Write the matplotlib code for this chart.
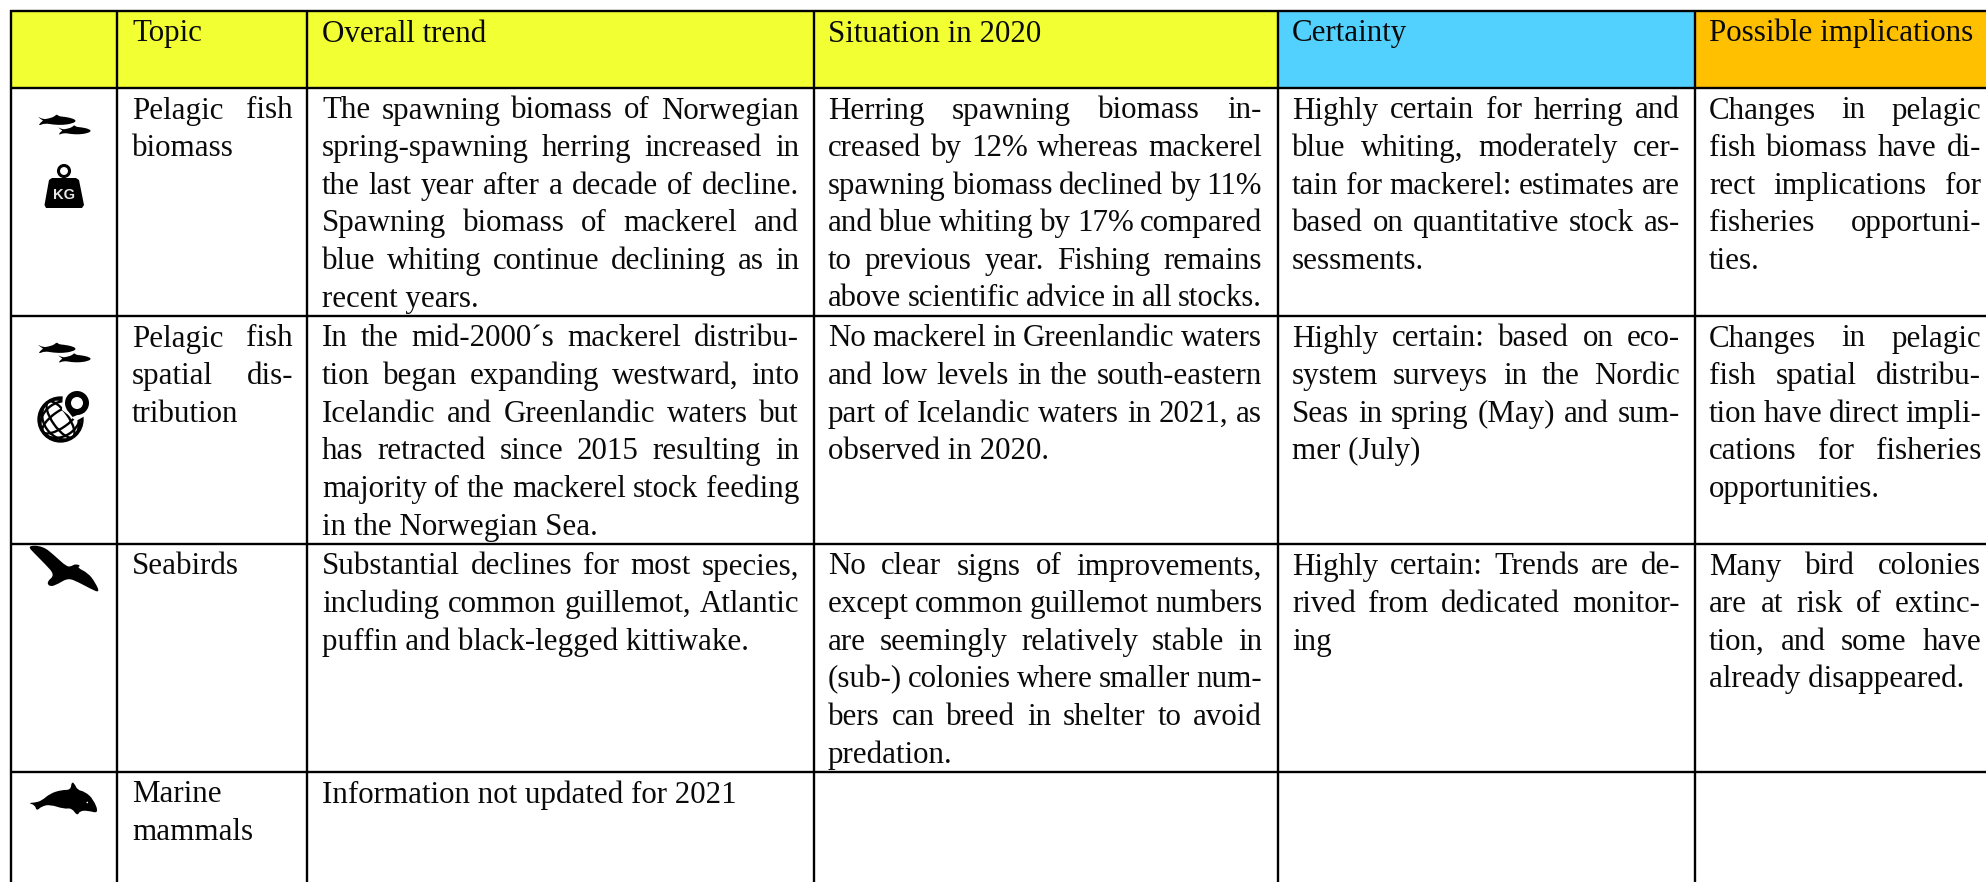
#!/usr/bin/env python3
"""Summary table of pelagic fish, seabirds and marine mammals, drawn on one pixel-sized axes."""

import matplotlib
matplotlib.use("Agg")
import matplotlib.pyplot as plt
from matplotlib.patches import Circle, Ellipse, PathPatch, Polygon, Rectangle
from matplotlib.path import Path

# Table content, one list per column, cells already broken into lines
headers = ["", "Topic", "Overall trend", "Situation in 2020", "Certainty", "Possible implications"]
header_colors = ["#F2FF33", "#F2FF33", "#F2FF33", "#F2FF33", "#52D1FF", "#FFC000"]

topics = [
    ["Pelagic fish", "biomass"],
    ["Pelagic fish", "spatial dis-", "tribution"],
    ["Seabirds"],
    ["Marine", "mammals"],
]
trends = [
    ["The spawning biomass of Norwegian", "spring-spawning herring increased in",
     "the last year after a decade of decline.", "Spawning biomass of mackerel and",
     "blue whiting continue declining as in", "recent years."],
    ["In the mid-2000´s mackerel distribu-", "tion began expanding westward, into",
     "Icelandic and Greenlandic waters but", "has retracted since 2015 resulting in",
     "majority of the mackerel stock feeding", "in the Norwegian Sea."],
    ["Substantial declines for most species,", "including common guillemot, Atlantic",
     "puffin and black-legged kittiwake."],
    ["Information not updated for 2021"],
]
situations = [
    ["Herring spawning biomass in-", "creased by 12% whereas mackerel",
     "spawning biomass declined by 11%", "and blue whiting by 17% compared",
     "to previous year. Fishing remains", "above scientific advice in all stocks."],
    ["No mackerel in Greenlandic waters", "and low levels in the south-eastern",
     "part of Icelandic waters in 2021, as", "observed in 2020."],
    ["No clear signs of improvements,", "except common guillemot numbers",
     "are seemingly relatively stable in", "(sub-) colonies where smaller num-",
     "bers can breed in shelter to avoid", "predation."],
    [],
]
certainty = [
    ["Highly certain for herring and", "blue whiting, moderately cer-",
     "tain for mackerel: estimates are", "based on quantitative stock as-", "sessments."],
    ["Highly certain: based on eco-", "system surveys in the Nordic",
     "Seas in spring (May) and sum-", "mer (July)"],
    ["Highly certain: Trends are de-", "rived from dedicated monitor-", "ing"],
    [],
]
implications = [
    ["Changes in pelagic", "fish biomass have di-", "rect implications for",
     "fisheries opportuni-", "ties."],
    ["Changes in pelagic", "fish spatial distribu-", "tion have direct impli-",
     "cations for fisheries", "opportunities."],
    ["Many bird colonies", "are at risk of extinc-", "tion, and some have",
     "already disappeared."],
    [],
]

# Layout, in reference pixels
W, H = 1986, 882
col_edges = [11, 117, 307, 814, 1278, 1695, W]
row_edges = [11, 88, 316, 544, 772, H]
text_left = [None, 132, 322, 828, 1292, 1709]
text_right = [None, 293, 799, 1262, 1680, 1981]
line_step = 37.6
first_baseline = 30.5
font = "Liberation Serif"
font_size = 22.3
min_gap = 6.0

fig = plt.figure(figsize=(W / 100, H / 100), dpi=100)
ax = fig.add_axes([0, 0, 1, 1])
ax.set_xlim(0, W)
ax.set_ylim(H, 0)
ax.axis("off")
renderer = fig.canvas.get_renderer()


def put_text(x, y, s, size=font_size):
    return ax.text(x, y, s, family=font, fontsize=size, color="#0a0a0a", va="baseline", ha="left")


def draw_line(line, x0, x1, y, justify):
    words = line.split(" ")
    if not justify or len(words) == 1:
        put_text(x0, y, line)
        return
    artists = [put_text(x0, y, w) for w in words]
    widths = [a.get_window_extent(renderer).width for a in artists]
    room = x1 - x0 - min_gap * (len(words) - 1)
    if sum(widths) > room:
        # tight line: shrink the font a little so the words still fit
        scale = room / sum(widths)
        for a in artists:
            a.set_fontsize(font_size * scale)
        widths = [a.get_window_extent(renderer).width for a in artists]
    gap = (x1 - x0 - sum(widths)) / (len(words) - 1)
    x = x0
    for a, w in zip(artists, widths):
        a.set_x(x)
        x += w + gap


def smooth_path(points):
    # closed quadratic spline through the midpoints of the outline
    mids = [((a[0] + b[0]) / 2, (a[1] + b[1]) / 2) for a, b in zip(points, points[1:] + points[:1])]
    verts = [mids[-1]]
    codes = [Path.MOVETO]
    for p, m in zip(points, mids):
        verts += [p, m]
        codes += [Path.CURVE3, Path.CURVE3]
    return Path(verts, codes)


def blob(points, color="black"):
    ax.add_patch(PathPatch(smooth_path(points), fc=color, ec="none", zorder=4))


FISH = [(-.02, -.11), (.06, -.05), (.11, -.01), (.14, 0), (.06, .06), (.01, .14), (.18, .07), (.4, .11), (.66, .12),
        (.9, .08), (1.02, .01), (.9, -.06), (.68, -.1), (.55, -.11), (.49, -.17), (.43, -.1), (.27, -.05), (.14, -.03)]


def draw_fish(x0, y0, length):
    blob([(x0 + u * length, y0 + v * length) for u, v in FISH])


def draw_fish_pair(dy):
    draw_fish(38, 120.5 + dy, 38)
    draw_fish(58, 130.5 + dy, 33)


def draw_weight():
    ax.add_patch(Circle((64, 171), 5.5, fc="none", ec="black", lw=2.2, zorder=4))
    ax.add_patch(Polygon([(52, 178), (76, 178), (79, 180), (84, 205), (82, 208), (46, 208), (44.5, 205), (49, 180)],
                         fc="black", ec="none", zorder=4))
    ax.text(64, 199, "KG", family="Liberation Sans", weight="bold", fontsize=10.5, color="#e8e8e8",
            ha="center", va="baseline", zorder=5)


def draw_globe():
    cx, cy, r = 60.5, 419.5, 21.5
    clip = Circle((cx, cy), r, transform=ax.transData)
    for w in (r * .75, r * 1.55):
        for size in ((w, 2 * r), (2 * r, w)):
            e = Ellipse((cx, cy), size[0], size[1], angle=-35, fc="none", ec="black", lw=1.7, zorder=4)
            ax.add_patch(e)
            e.set_clip_path(clip)
    ax.add_patch(Circle((cx, cy), r, fc="none", ec="black", lw=2.4, zorder=4))
    # pin with a white halo that cuts into the globe
    ax.add_patch(Polygon([(63, 392), (92, 392), (92, 412), (76, 421), (62, 410)], fc="white", ec="none", zorder=5))
    ax.add_patch(Circle((77, 403), 12, fc="black", ec="none", zorder=6))
    ax.add_patch(Polygon([(66.5, 409), (72.5, 417), (85, 412)], fc="black", ec="none", zorder=6))
    ax.add_patch(Circle((77, 403), 6, fc="white", ec="none", zorder=7))


def draw_bird():
    blob([(27, 545.5), (43, 546), (55, 556), (67, 567), (72, 566), (75, 564), (81, 565.5), (77, 567.5), (88, 573),
          (95, 582), (100, 593), (90, 588.5), (78, 582), (68, 578), (58, 584), (50, 587), (46.5, 582), (55, 575),
          (45, 564), (35, 554)])


def draw_dolphin():
    blob([(28, 803), (35, 802.6), (41.7, 800.7), (50, 793.5), (61.7, 789.9), (70.7, 789.9), (71.5, 782), (74.5, 783.5),
          (77.3, 789.9), (85, 791.7), (93.3, 799), (99, 813.5), (88.3, 810.7), (80, 810.7), (77.3, 816), (71.7, 808),
          (64, 809), (50, 804.5), (41.7, 806.3), (36.5, 811), (35, 805)])
    ax.add_patch(Circle((87.3, 802.5), .8, fc="white", ec="none", zorder=5))


def main():
    # header fills
    for left, right, color in zip(col_edges[:-1], col_edges[1:], header_colors):
        ax.add_patch(Rectangle((left, row_edges[0]), right - left, row_edges[1] - row_edges[0], fc=color, ec="none"))

    # header text and body cells
    for col in range(1, len(headers)):
        put_text(text_left[col], row_edges[0] + first_baseline, headers[col])
    columns = [topics, trends, situations, certainty, implications]
    for col, cells in enumerate(columns, start=1):
        for row, lines in enumerate(cells):
            y0 = row_edges[row + 1] + first_baseline
            for i, line in enumerate(lines):
                # every line is justified but the last of a cell; the one long closing line fits by force
                justify = i < len(lines) - 1 or line.startswith("above")
                draw_line(line, text_left[col], text_right[col], y0 + i * line_step, justify)

    # grid
    for y in row_edges[:-1]:
        ax.plot([col_edges[0] - 1, W], [y, y], color="black", lw=1.7, solid_capstyle="butt", zorder=3)
    for x in col_edges[:-1]:
        ax.plot([x, x], [row_edges[0] - 1, H], color="black", lw=1.7, solid_capstyle="butt", zorder=3)

    # row icons
    draw_fish_pair(0)
    draw_weight()
    draw_fish_pair(228)
    draw_globe()
    draw_bird()
    draw_dolphin()

    fig.savefig("out.png", dpi=100, facecolor="white")


if __name__ == "__main__":
    main()
